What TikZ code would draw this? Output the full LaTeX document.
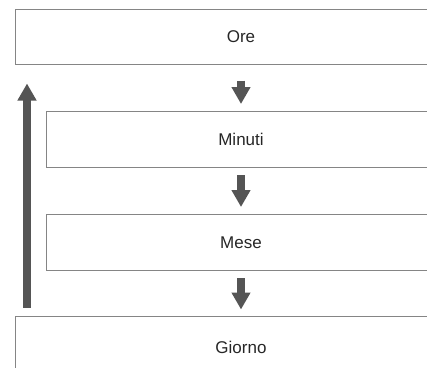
\documentclass[tikz,border=0pt]{standalone}
\usepackage{fontspec}
\setmainfont{Liberation Sans}
\usetikzlibrary{positioning,arrows.meta}
\definecolor{boxgray}{HTML}{858585}
\definecolor{arrowgray}{HTML}{555555}
\begin{document}
\begin{tikzpicture}[x=1pt, y=-1pt,
    unit/.style={draw=boxgray, line width=1, rectangle, minimum height=56, font=\fontsize{17}{20}\selectfont, text=black!85},
    flow/.style={draw=arrowgray, line width=8, -{Triangle[length=17pt, width=18pt]}}]
\useasboundingbox (0,0) rectangle (427,367);

    \node [unit, minimum width=452, minimum height=55] (ore) at (241,36.5) {Ore};
    \node [unit, minimum width=390] (minuti) at (241,139.5) {Minuti};
    \node [unit, minimum width=390] (mese) at (241,242.5) {Mese};
    \node [unit, minimum width=452, minimum height=62] (giorno) at (241,347) {Giorno};

    \draw [flow, shorten <=16pt, shorten >=7pt] (ore) -- (minuti);
    \draw [flow, shorten <=7pt, shorten >=7pt] (minuti) -- (mese);
    \draw [flow, shorten <=7pt, shorten >=6pt] (mese) -- (giorno);
    \draw [flow, shorten <=8pt, shorten >=19pt] ([xshift=12.5pt]giorno.north west) -- ([xshift=12.5pt]ore.south west);

\end{tikzpicture}
\end{document}
